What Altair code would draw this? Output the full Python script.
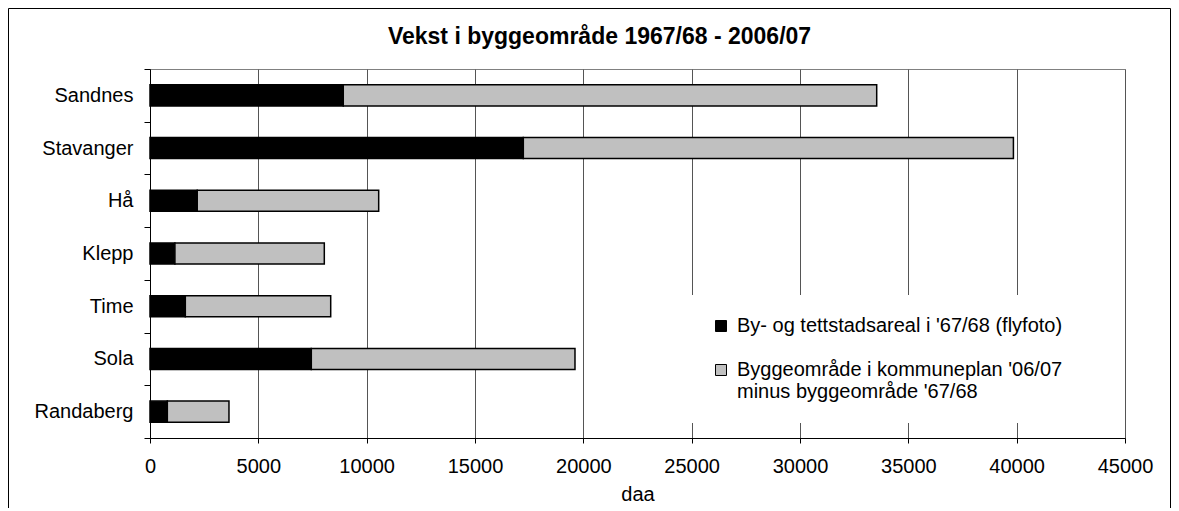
import altair as alt
import pandas as pd

# ---- data ----
kommuner = ["Sandnes", "Stavanger", "Hå", "Klepp", "Time", "Sola", "Randaberg"]
areal_6768 = [8920, 17230, 2180, 1150, 1630, 7445, 800]          # black segment
vekst = [24620, 22620, 8375, 6895, 6710, 12170, 2845]             # grey segment
serier = [
    "By- og tettstadsareal i '67/68 (flyfoto)",
    "Byggeområde i kommuneplan '06/07|minus byggeområde '67/68",
]
farger = ["#000000", "#C0C0C0"]
x_ticks = [0, 5000, 10000, 15000, 20000, 25000, 30000, 35000, 40000, 45000]
tittel = "Vekst i byggeområde 1967/68 - 2006/07"
x_tittel = "daa"

rows = []
for k, a, v in zip(kommuner, areal_6768, vekst):
    rows.append({"kommune": k, "serie": serier[0], "orden": 0, "daa": a})
    rows.append({"kommune": k, "serie": serier[1], "orden": 1, "daa": v})
df = pd.DataFrame(rows)

FONT = "Liberation Sans"

bars = alt.Chart(df).mark_bar(
    stroke="black", strokeWidth=1.5, height=alt.RelativeBandSize(0.4)
).encode(
    y=alt.Y(
        "kommune:N",
        sort=kommuner,
        title=None,
        scale=alt.Scale(paddingInner=0, paddingOuter=0),
        axis=alt.Axis(
            labelFont=FONT, labelFontSize=20, labelColor="black",
            labelPadding=11, labelLimit=0,
            tickSize=6, tickColor="black", tickWidth=1,
            domainColor="black", domainWidth=1,
            grid=False, tickBand="extent",
        ),
    ),
    x=alt.X(
        "daa:Q",
        stack="zero",
        title=x_tittel,
        scale=alt.Scale(domain=[0, 45000], nice=False),
        axis=alt.Axis(
            values=x_ticks, format="d",
            labelFont=FONT, labelFontSize=20, labelColor="black",
            labelPadding=13, labelFlush=False, labelOverlap=False,
            tickSize=5, tickColor="black", tickWidth=1,
            domainColor="black", domainWidth=1,
            grid=True, gridColor="#555555", gridWidth=1,
            titleFont=FONT, titleFontSize=20, titleFontWeight="normal",
            titleColor="black", titlePadding=8,
        ),
    ),
    color=alt.Color(
        "serie:N",
        scale=alt.Scale(domain=serier, range=farger),
        legend=alt.Legend(
            title=None, orient="none", legendX=540, legendY=226,
            direction="vertical",
            labelFont=FONT, labelFontSize=20, labelColor="black",
            labelLimit=0, labelOffset=6, labelBaseline="middle",
            labelExpr="split(datum.label, '|')",
            symbolType="square", symbolSize=121,
            symbolStrokeColor="black", symbolStrokeWidth=1, symbolOpacity=1,
            fillColor="white", padding=21, rowPadding=24,
        ),
    ),
    order=alt.Order("orden:Q"),
)

frame = alt.Chart(alt.Data(values=[{"f": 1}])).mark_rect(
    fill="transparent", stroke="black", strokeWidth=1
).encode(
    x=alt.value(-141.5), x2=alt.value(1020.5),
    y=alt.value(-60.5), y2=alt.value(445),
)

chart = alt.layer(frame, bars).properties(
    width=975,
    height=369,
    padding={"left": 142, "top": 61, "right": 46, "bottom": 70},
    autosize=alt.AutoSizeParams(type="none"),
    title=alt.TitleParams(
        tittel, font=FONT, fontSize=23, fontWeight="bold", color="black",
        anchor="middle", frame="group", dx=-38, offset=-59,
        baseline="alphabetic",
    ),
).configure_view(stroke="#808080", strokeWidth=1)

chart.save("out.html", embed_options={"renderer": "svg", "actions": False})
